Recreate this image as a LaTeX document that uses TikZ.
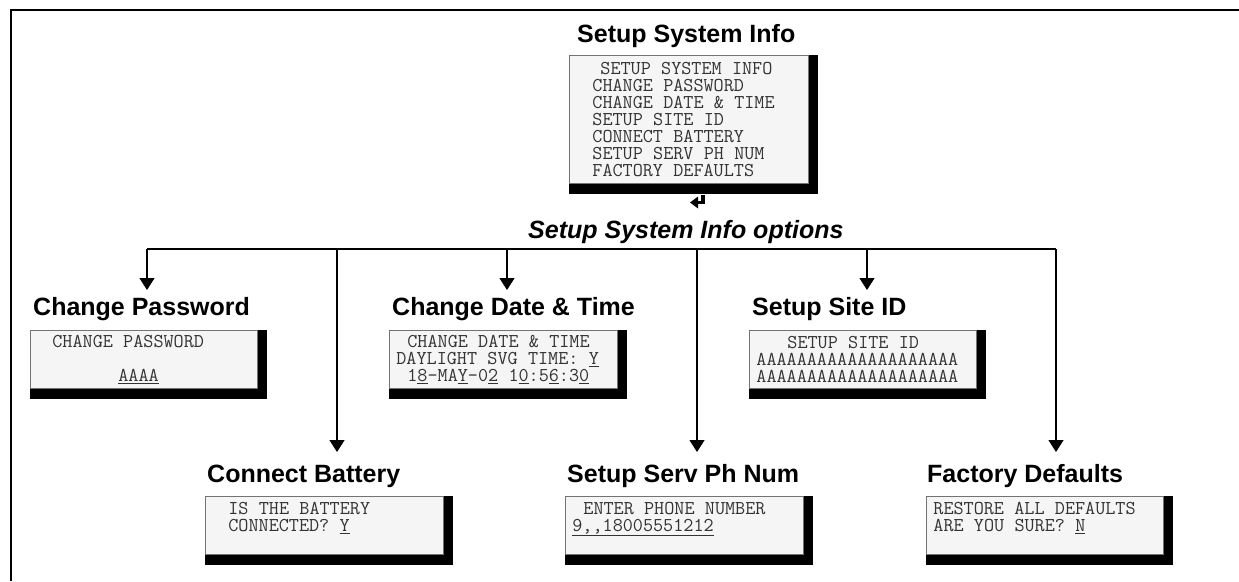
\documentclass[tikz,border=0pt]{standalone}
\usepackage{fontspec}
\setmainfont{Liberation Sans}
\usetikzlibrary{arrows.meta,backgrounds}

\newcommand{\lcdfont}{\ttfamily\fontsize{19.6}{17}\selectfont
  \fontdimen2\font=0.525em \fontdimen3\font=0pt \fontdimen4\font=0pt \frenchspacing}
\tikzset{
  title/.style={anchor=base west, inner sep=0pt, font=\bfseries\fontsize{25}{30}\selectfont},
  screen/.style={anchor=north west, draw=black!55, fill=black!4, line width=0.8pt,
    inner xsep=7pt, inner ysep=0pt, align=flush left, text=black!80, font=\lcdfont,
    execute at begin node={\spaceskip=0pt\xspaceskip=0pt}},
  drop/.style={line width=1.3pt, -{Triangle[length=12pt,width=15pt]}},
}
\newcommand{\pad}[1]{\hspace*{#1pt}}

\begin{document}
\begin{tikzpicture}[x=1pt,y=-1pt]
\useasboundingbox (0,0) rectangle (1239,581);
% frame
\draw[line width=2.2pt] (11,581) -- (11,10) -- (1239,10);

% main menu
\node[title] (sys-t) at (577,42) {Setup System Info};
\node[screen, text width=225pt, minimum height=128pt] (sys) at (569,55)
  {\pad{24}SETUP SYSTEM INFO\\ \pad{16}CHANGE PASSWORD\\ \pad{16}CHANGE DATE \& TIME\\
   \pad{16}SETUP SITE ID\\ \pad{16}CONNECT BATTERY\\ \pad{16}SETUP SERV PH NUM\\
   \pad{16}FACTORY DEFAULTS};
\draw[line width=3.5pt] (703,194.5) -- (703,202.5) -- (697,202.5);
\fill (690,202.5) -- (698,196.5) -- (698,208.5) -- cycle;
\node[title, font=\bfseries\itshape\fontsize{25}{30}\selectfont] (opts) at (528,238) {Setup System Info options};

% options, top row
\node[title] (pw-t) at (33,315) {Change Password};
\node[screen, text width=213pt, minimum height=58pt] (pw) at (30,330)
  {\pad{15}CHANGE PASSWORD\\ \mbox{}\\ \pad{81}\underline{AAAA}};
\node[title] (dt-t) at (392,315) {Change Date \& Time};
\node[screen, text width=214pt, minimum height=58pt] (dt) at (389,330)
  {\pad{11}CHANGE DATE \& TIME\\ DAYLIGHT SVG TIME: \underline{Y}\\
   \pad{11}1\underline{8}-MA\underline{Y}-0\underline{2} 1\underline{0}:5\underline{6}:3\underline{0}};
\node[title] (site-t) at (752,315) {Setup Site ID};
\node[screen, text width=213pt, minimum height=58pt] (site) at (749,330)
  {\pad{31}SETUP SITE ID\\ AAAAAAAAAAAAAAAAAAAA\\ AAAAAAAAAAAAAAAAAAAA};

% options, bottom row
\node[title] (bat-t) at (207,482) {Connect Battery};
\node[screen, text width=224pt, minimum height=58pt] (bat) at (205,496)
  {\pad{16}IS THE BATTERY\\ \pad{16}CONNECTED? \underline{Y}\\ \mbox{}};
\node[title] (ph-t) at (567,482) {Setup Serv Ph Num};
\node[screen, text width=224pt, minimum height=58pt] (ph) at (565,496)
  {\pad{11}ENTER PHONE NUMBER\\ \underline{9,,18005551212}\\ \mbox{}};
\node[title] (fac-t) at (927,482) {Factory Defaults};
\node[screen, text width=223pt, minimum height=58pt] (fac) at (926,496)
  {RESTORE ALL DEFAULTS\\ ARE YOU SURE? \underline{N}\\ \mbox{}};

% shadows
\begin{scope}[on background layer]
  \foreach \s in {sys,pw,dt,site,bat,ph,fac}
    \fill (\s.north west) rectangle ([xshift=9pt,yshift=-10pt]\s.south east);
\end{scope}

% connectors
\coordinate (bar-w) at (147,249);
\coordinate (bar-e) at (1056,249);
\coordinate (pw-in) at (147,290);
\coordinate (bat-in) at (337,452);
\coordinate (dt-in) at (507,290);
\coordinate (ph-in) at (697,452);
\coordinate (site-in) at (867,290);
\coordinate (fac-in) at (1056,452);
\draw[line width=1.3pt] (bar-w) -- (bar-e);
\foreach \t in {pw-in,bat-in,dt-in,ph-in,site-in,fac-in}
  \draw[drop] (\t |- bar-w) -- (\t);
\end{tikzpicture}
\end{document}
